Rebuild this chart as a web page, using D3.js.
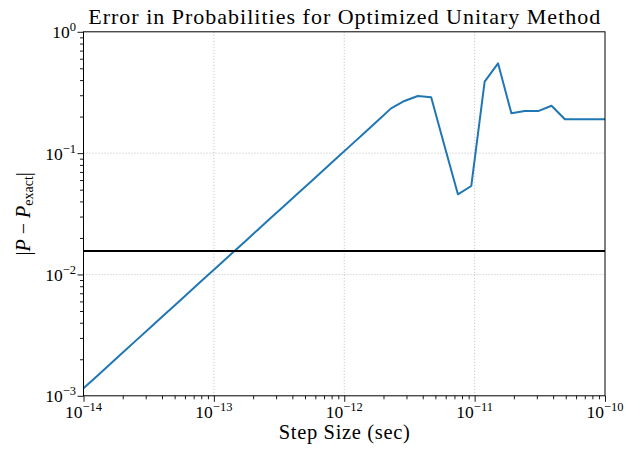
<!DOCTYPE html>
<html><head><meta charset="utf-8">
<script src="https://cdn.jsdelivr.net/npm/d3@7"></script>
<style>body{margin:0;background:#fff}svg{display:block}text{font-family:"Liberation Serif","DejaVu Serif",serif;fill:#000}</style>
</head><body><svg id="c" width="626" height="449"></svg>
<script>
// step sizes (sec): 40 log-spaced points from 1e-14 to 1e-10
const stepExponents = d3.range(40).map(k => -14 + k * 4 / 39);
const errorValues = [
  0.001153, 0.001452, 0.001828, 0.002307, 0.002904, 0.003656, 0.004603, 0.005794,
  0.007311, 0.009204, 0.01159, 0.01459, 0.01837, 0.02317, 0.02917, 0.03673,
  0.04624, 0.05821, 0.07345, 0.09247, 0.1164, 0.1466, 0.1845, 0.2339,
  0.2692, 0.2958, 0.2884, 0.1146, 0.0458, 0.0536, 0.388, 0.550,
  0.213, 0.222, 0.222, 0.246, 0.190, 0.190, 0.190, 0.190
];
const thresholdValue = 0.015625;
const xTickExps = [-14, -13, -12, -11, -10];
const yTickExps = [-3, -2, -1, 0];
const titleText = "Error in Probabilities for Optimized Unitary Method";
const xLabelText = "Step Size (sec)";

const m = {l: 83.5, r: 605, t: 31.8, b: 395.8};
const svg = d3.select("#c");
const x = d3.scaleLog().domain([1e-14, 1e-10]).range([m.l, m.r]);
const y = d3.scaleLog().domain([1e-3, 1]).range([m.b, m.t]);

// grid
const g = svg.append("g");
xTickExps.slice(1, -1).forEach(e => g.append("line")
  .attr("x1", x(Math.pow(10, e))).attr("x2", x(Math.pow(10, e)))
  .attr("y1", m.t).attr("y2", m.b)
  .attr("stroke", "#b0b0b0").attr("stroke-width", 0.8).attr("stroke-dasharray", "1,2"));
yTickExps.slice(1, -1).forEach(e => g.append("line")
  .attr("y1", y(Math.pow(10, e))).attr("y2", y(Math.pow(10, e)))
  .attr("x1", m.l).attr("x2", m.r)
  .attr("stroke", "#b0b0b0").attr("stroke-width", 0.8).attr("stroke-dasharray", "1,2"));

// data line
const data = stepExponents.map((e, i) => [Math.pow(10, e), errorValues[i]]);
svg.append("path").datum(data)
  .attr("d", d3.line().x(d => x(d[0])).y(d => y(d[1])))
  .attr("fill", "none").attr("stroke", "#1f77b4").attr("stroke-width", 2).attr("stroke-linejoin", "round");

// threshold
svg.append("line").attr("x1", m.l).attr("x2", m.r)
  .attr("y1", y(thresholdValue)).attr("y2", y(thresholdValue))
  .attr("stroke", "#000").attr("stroke-width", 2);

// axes with minor ticks
const xMinor = [];
for (let e = -14; e < -10; e++) for (let k = 2; k <= 9; k++) xMinor.push(k * Math.pow(10, e));
const yMinor = [];
for (let e = -3; e < 0; e++) for (let k = 2; k <= 9; k++) yMinor.push(k * Math.pow(10, e));

const xAxisMinor = d3.axisBottom(x).tickValues(xMinor).tickSize(3.5).tickFormat("");
const xAxisMajor = d3.axisBottom(x).tickValues(xTickExps.map(e => Math.pow(10, e))).tickSize(6).tickFormat("");
const yAxisMinor = d3.axisLeft(y).tickValues(yMinor).tickSize(3.5).tickFormat("");
const yAxisMajor = d3.axisLeft(y).tickValues(yTickExps.map(e => Math.pow(10, e))).tickSize(6).tickFormat("");
[xAxisMinor, xAxisMajor].forEach(a => svg.append("g").attr("transform", `translate(0,${m.b})`).call(a)
  .call(s => s.select(".domain").remove()).selectAll("line").attr("stroke", "#000").attr("stroke-width", 0.9));
[yAxisMinor, yAxisMajor].forEach(a => svg.append("g").attr("transform", `translate(${m.l},0)`).call(a)
  .call(s => s.select(".domain").remove()).selectAll("line").attr("stroke", "#000").attr("stroke-width", 0.9));

// frame
svg.append("rect").attr("x", m.l).attr("y", m.t).attr("width", m.r - m.l).attr("height", m.b - m.t)
  .attr("fill", "none").attr("stroke", "#000").attr("stroke-width", 1);

function pow10(sel, e) {
  sel.append("tspan").text("10");
  sel.append("tspan").attr("dy", -7).attr("font-size", "12.5px").text(e === 0 ? "0" : "\u2212" + Math.abs(e));
}
xTickExps.forEach(e => {
  const t = svg.append("text").attr("x", x(Math.pow(10, e))).attr("y", 418)
    .attr("text-anchor", "middle").attr("font-size", "17.5px");
  pow10(t, e);
});
yTickExps.forEach(e => {
  const t = svg.append("text").attr("x", 76).attr("y", y(Math.pow(10, e)) + 6.5)
    .attr("text-anchor", "end").attr("font-size", "17.5px");
  pow10(t, e);
});

svg.append("text").attr("x", (m.l + m.r) / 2).attr("y", 23.5).attr("text-anchor", "middle")
  .attr("font-size", "22px").attr("textLength", 512).attr("lengthAdjust", "spacing").text(titleText);
svg.append("text").attr("x", (m.l + m.r) / 2).attr("y", 439).attr("text-anchor", "middle")
  .attr("font-size", "20.5px").attr("textLength", 131).attr("lengthAdjust", "spacing").text(xLabelText);

const yl = svg.append("text").attr("transform", `translate(30,${(m.t + m.b) / 2}) rotate(-90)`)
  .attr("text-anchor", "middle").attr("font-size", "20px");
yl.append("tspan").text("|");
yl.append("tspan").attr("font-style", "italic").text("P");
yl.append("tspan").text(" \u2212 ");
yl.append("tspan").attr("font-style", "italic").text("P");
yl.append("tspan").attr("dy", 3).attr("font-size", "14px").text("exact");
yl.append("tspan").attr("dy", -3).text("|");
</script></body></html>
